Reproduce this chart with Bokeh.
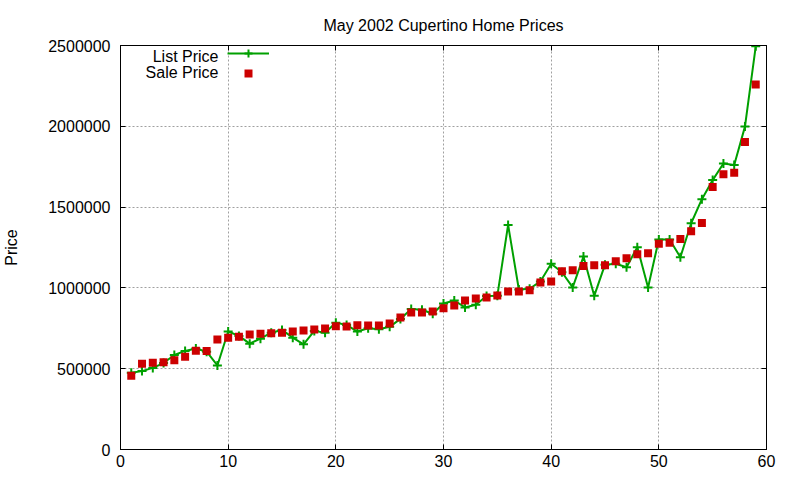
from bokeh.plotting import figure
from bokeh.models import (Range1d, FixedTicker, LinearAxis, BasicTickFormatter, Label,
                          Legend, LegendItem, ColumnDataSource)
from bokeh.embed import file_html
from bokeh.resources import INLINE

# ---- data -------------------------------------------------------------
house_index = list(range(1, 60))
list_price = [475000, 485000, 505000, 535000, 585000, 610000, 625000, 605000, 520000, 730000,
              703000, 655000, 686000, 723000, 740000, 692000, 651000, 734000, 723000, 785000,
              771000, 730000, 750000, 744000, 759000, 808000, 869000, 865000, 840000, 904000,
              922000, 879000, 896000, 950000, 951000, 1390000, 990000, 995000, 1040000, 1149000,
              1097000, 1003000, 1194000, 951000, 1144000, 1149000, 1128000, 1252000, 1003000, 1300000,
              1300000, 1190000, 1400000, 1549000, 1667000, 1770000, 1760000, 1998000, 2495000]
sale_price = [456000, 530000, 537000, 540000, 553000, 574000, 611000, 610000, 680000, 692000,
              698000, 711000, 717000, 719000, 723000, 730000, 736000, 742000, 748000, 763000,
              761000, 769000, 767000, 767000, 779000, 817000, 848000, 848000, 854000, 874000,
              891000, 922000, 935000, 941000, 953000, 978000, 978000, 985000, 1034000, 1040000,
              1103000, 1109000, 1136000, 1140000, 1140000, 1165000, 1184000, 1208000, 1215000, 1273000,
              1279000, 1302000, 1351000, 1401000, 1625000, 1704000, 1712000, 1903000, 2258000]
x_ticks = [0, 10, 20, 30, 40, 50, 60]
y_ticks = [0, 500000, 1000000, 1500000, 2000000, 2500000]
series_names = ["List Price", "Sale Price"]
title_text = "May 2002 Cupertino Home Prices"
y_label = "Price"

FONT = "Liberation Sans"
FS = "16px"
GREEN = "#00a000"
RED = "#cc0000"
GRID = "#a0a0a0"

src = ColumnDataSource(data=dict(x=house_index, lp=list_price, sp=sale_price))

p = figure(width=800, height=480, output_backend="svg", toolbar_location=None,
           x_range=Range1d(0, 60), y_range=Range1d(0, 2500000),
           min_border_left=118, min_border_right=34, min_border_top=45, min_border_bottom=31,
           title=title_text)
p.background_fill_color = "white"
p.border_fill_color = "white"
p.outline_line_color = "black"
p.outline_line_width = 1

p.title.text_font = FONT
p.title.text_font_size = FS
p.title.text_font_style = "normal"
p.title.text_color = "black"
p.title.align = "center"
p.title.standoff = 24
p.title.offset = -4

for ax in (p.xaxis[0], p.yaxis[0]):
    ax.major_tick_in = 5
    ax.major_tick_out = 0
    ax.minor_tick_line_color = None
    ax.axis_line_color = "black"
    ax.major_tick_line_color = "black"
    ax.major_label_text_font = FONT
    ax.major_label_text_font_size = FS
    ax.major_label_text_color = "black"

p.xaxis[0].ticker = FixedTicker(ticks=x_ticks)
p.xaxis[0].major_label_standoff = 5
p.yaxis[0].ticker = FixedTicker(ticks=y_ticks)
p.yaxis[0].formatter = BasicTickFormatter(use_scientific=False)
p.yaxis[0].major_label_standoff = 10
p.yaxis[0].axis_label = y_label
p.yaxis[0].axis_label_text_font = FONT
p.yaxis[0].axis_label_text_font_size = FS
p.yaxis[0].axis_label_text_font_style = "normal"
p.yaxis[0].axis_label_text_color = "black"
p.yaxis[0].axis_label_standoff = 25

p.xgrid.ticker = FixedTicker(ticks=x_ticks)
p.ygrid.ticker = FixedTicker(ticks=y_ticks)
for g in (p.xgrid[0], p.ygrid[0]):
    g.grid_line_color = GRID
    g.grid_line_dash = "2 2"
    g.grid_line_width = 1

# mirrored tick marks on the top and right borders (no labels drawn)
top_ax = LinearAxis(ticker=FixedTicker(ticks=x_ticks), major_label_text_font_size="1px",
                    major_label_text_alpha=0, major_tick_in=5, major_tick_out=0,
                    minor_tick_line_color=None, major_label_standoff=0, axis_line_color="black")
right_ax = LinearAxis(ticker=FixedTicker(ticks=y_ticks), major_label_text_font_size="1px",
                      major_label_text_alpha=0, major_tick_in=5, major_tick_out=0,
                      minor_tick_line_color=None, major_label_standoff=0, axis_line_color="black")
p.add_layout(top_ax, "above")
p.add_layout(right_ax, "right")

line_r = p.line(x="x", y="lp", source=src, line_color=GREEN, line_width=2)
cross_r = p.scatter(x="x", y="lp", source=src, marker="cross", size=9,
                    line_color=GREEN, line_width=2)
sq_r = p.scatter(x="x", y="sp", source=src, marker="square", size=8,
                 fill_color=RED, line_color=None)

legend = Legend(items=[LegendItem(label=" ", renderers=[line_r, cross_r]),
                       LegendItem(label=" ", renderers=[sq_r])],
                location=(107, 366), glyph_width=42, glyph_height=20, spacing=-4,
                padding=0, margin=0, label_width=0, label_height=16, label_standoff=0,
                label_text_font_size="1px", label_text_alpha=0, border_line_color=None,
                background_fill_alpha=0)
p.add_layout(legend)

for txt, yy in zip(series_names, (393, 377.5)):
    p.add_layout(Label(x=98, y=yy, x_units="screen", y_units="screen", text=txt,
                       text_align="right", text_baseline="middle", text_font=FONT,
                       text_font_size=FS, text_color="black"))

open("out.html", "w").write(file_html(p, INLINE))
